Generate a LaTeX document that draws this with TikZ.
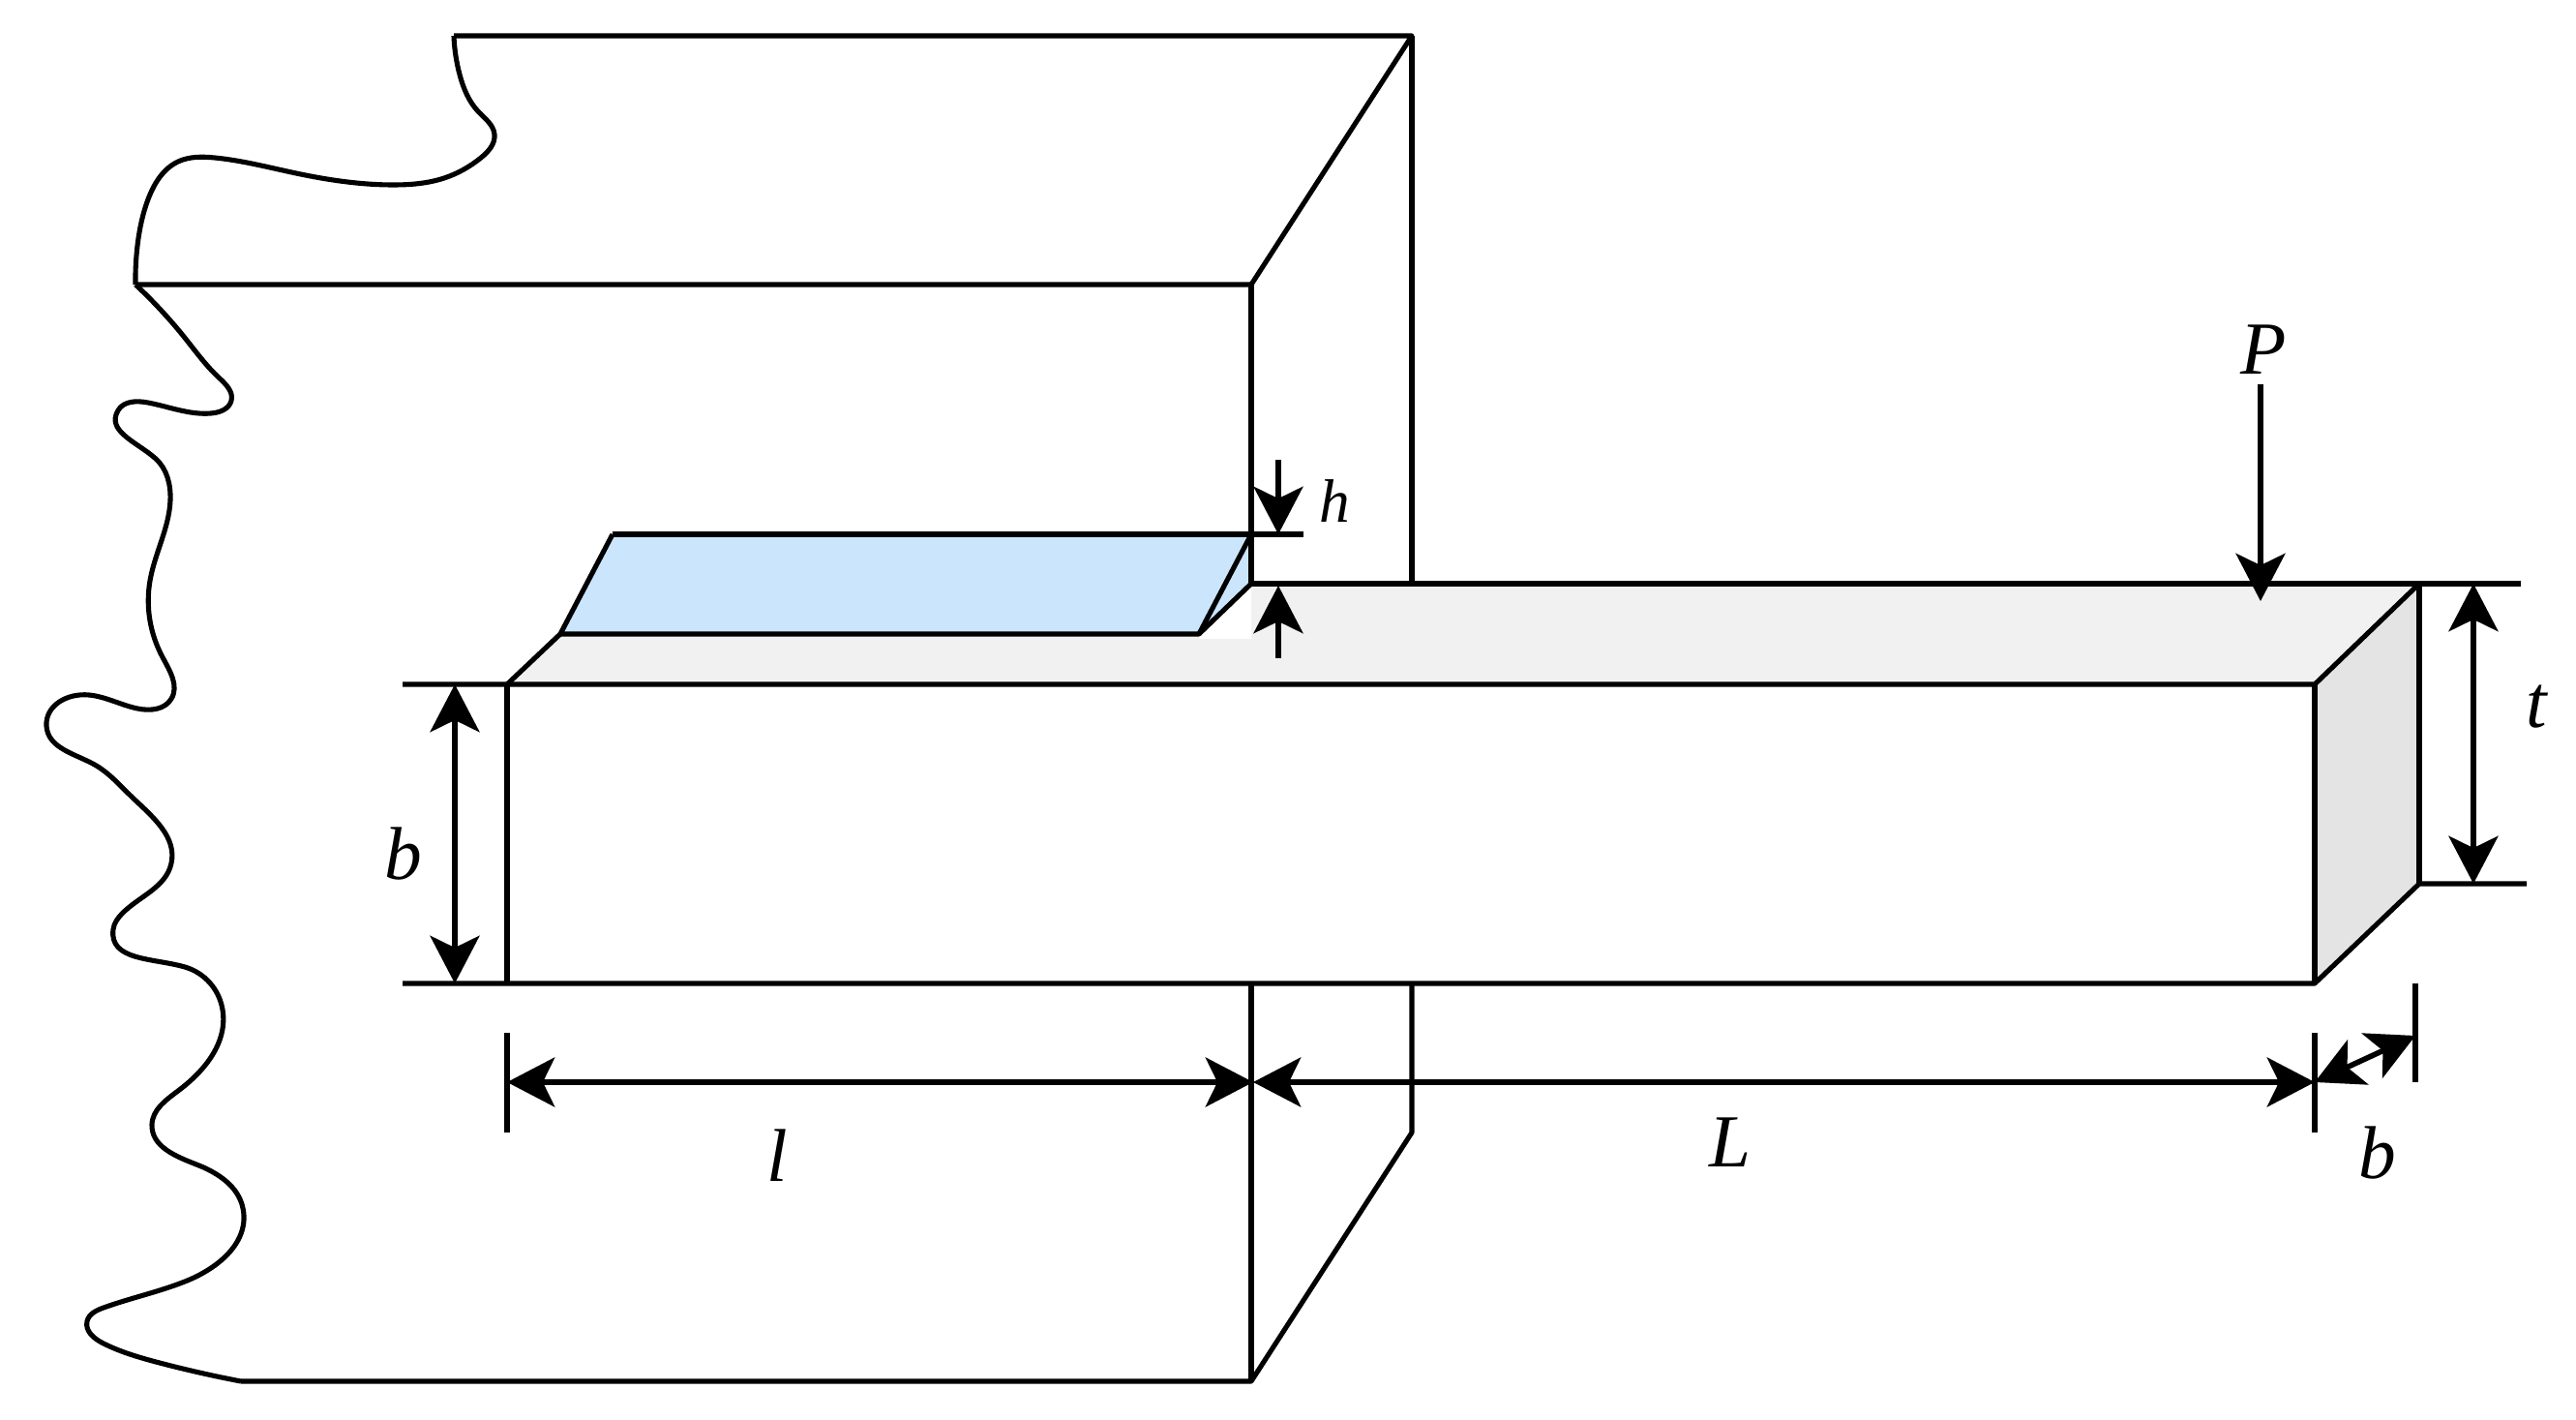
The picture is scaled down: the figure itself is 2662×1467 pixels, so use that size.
\documentclass[tikz,border=0pt]{standalone}
\usepackage{fontspec}
\setmainfont{Liberation Serif}
\usetikzlibrary{arrows.meta, hobby}
\definecolor{weldblue}{HTML}{CBE5FD}
\definecolor{topgray}{HTML}{F1F1F1}
\definecolor{sidegray}{HTML}{E4E4E4}
\tikzset{
	dimarrow/.style={line width=1.6pt, {Stealth[length=14pt, width=14.5pt, inset=3.5pt]}-{Stealth[length=14pt, width=14.5pt, inset=3.5pt]}},
	loadarrow/.style={line width=1.6pt, -{Stealth[length=14pt, width=14.5pt, inset=3.5pt]}},
	dimlabel/.style={font=\fontsize{22pt}{24pt}\selectfont\itshape, inner sep=0pt}
}
\begin{document}
\begin{tikzpicture}[x=0.01cm, y=-0.01cm, line width=1.45pt, line join=round, use Hobby shortcut]
		\useasboundingbox (0, 0) rectangle (2662, 1467);
		
		% beam corners
		\coordinate (fronttl) at (524, 707);
		\coordinate (fronttr) at (2392, 707);
		\coordinate (frontbr) at (2392, 1016);
		\coordinate (frontbl) at (524, 1016);
		\coordinate (backtr) at (2500, 603);
		\coordinate (backbr) at (2500, 913);
		\coordinate (backtl) at (1293, 603);
		
		% weld corners
		\coordinate (weldtl) at (633, 552);
		\coordinate (weldtr) at (1293, 552);
		\coordinate (weldbr) at (1239, 655);
		\coordinate (weldbl) at (579, 655);
		
		% wall corners
		\coordinate (walltl) at (469, 37);
		\coordinate (walltr) at (1459, 37);
		\coordinate (wallfl) at (140, 294);
		\coordinate (wallfr) at (1293, 294);
		\coordinate (wallbl) at (249, 1427);
		\coordinate (wallbr) at (1293, 1427);
		\coordinate (wallbk) at (1459, 1170);
		
		% fills
		\fill[topgray] (fronttl) -- (weldbl) -- (1293, 655) -- (backtl) -- (backtr) -- (fronttr) -- cycle;
		\fill[sidegray] (fronttr) -- (backtr) -- (backbr) -- (frontbr) -- cycle;
		\fill[white] (weldbr) -- (backtl) -- (1293, 660) -- (1239, 660) -- cycle;
		\fill[weldblue] (weldtl) -- (weldtr) -- (backtl) -- (weldbr) -- (weldbl) -- cycle;
		
		% wall outline
		\draw (walltl) -- (walltr) -- (wallfr) -- (wallfl);
		\draw (walltl) .. (475, 77) .. (494, 115) .. (511, 139) .. (497, 163) .. (459, 184) .. (406, 191) .. (306, 179) .. (222, 163) .. (184, 167) .. (153, 206) .. (142, 254) .. (wallfl);
		\draw (wallfl) .. (191, 349) .. (226, 390) .. (239, 414) .. (218, 427) .. (153, 416) .. (122, 424) .. (161, 474) .. (176, 517) .. (155, 600) .. (168, 679) .. (177, 722) .. (142, 732) .. (92, 718) .. (48, 750) .. (96, 789) .. (138, 825) .. (177, 892) .. (126, 944) .. (117, 960) .. (191, 999) .. (230, 1043) .. (184, 1127) .. (157, 1162) .. (203, 1203) .. (251, 1248) .. (191, 1324) .. (107, 1351) .. (90, 1365) .. (107, 1388) .. (165, 1408) .. (wallbl);
		\draw (wallbl) -- (wallbr) -- (wallbk) -- (1459, 1016);
		\draw (walltr) -- (1459, 603);
		\draw (wallfr) -- (backtl);
		\draw (1293, 1016) -- (wallbr);
		
		% weld
		\draw (weldtl) -- (1347, 552);
		\draw (weldtl) -- (weldbl) -- (weldbr) -- (weldtr);
		\draw (weldbr) -- (backtl);
		
		% beam
		\draw (weldbl) -- (fronttl);
		\draw (416, 707) -- (fronttr) -- (backtr);
		\draw (backtl) -- (2605, 603);
		\draw (416, 1016) -- (frontbr) -- (backbr) -- (2611, 913);
		\draw (fronttl) -- (frontbl);
		\draw (fronttr) -- (frontbr);
		\draw (backtr) -- (backbr);
		
		% extension ticks
		\draw (524, 1067) -- (524, 1170);
		\draw (2392, 1067) -- (2392, 1170);
		\draw (2496, 1016) -- (2496, 1118);
		
		% dimensions
		\coordinate (dimleft) at (524, 1118);
		\coordinate (dimmid) at (1295, 1118);
		\coordinate (dimright) at (2392, 1118);
		\coordinate (dimdepth) at (2496, 1070);
		\draw[dimarrow] (470, 707) -- (470, 1016);
		\draw[dimarrow] (2556, 603) -- (2556, 913);
		\draw[dimarrow] (dimleft) -- (dimmid);
		\draw[dimarrow] (dimmid) -- (dimright);
		\draw[dimarrow] (dimright) -- (dimdepth);
		\draw[loadarrow] (1321, 475) -- (1321, 552);
		\draw[loadarrow] (1321, 680) -- (1321, 605);
		\draw[loadarrow] (2336, 397) -- (2336, 621);
		
		\node[dimlabel] (labP) at (2339, 361) {P};
		\node[dimlabel] (labt) at (2621, 730) {t};
		\node[dimlabel] (labb) at (417, 882) {b};
		\node[dimlabel] (labl) at (803, 1194) {l};
		\node[dimlabel] (labL) at (1788, 1180) {L};
		\node[dimlabel] (labd) at (2457, 1191) {b};
		\node[dimlabel, font=\fontsize{18pt}{20pt}\selectfont\itshape] (labh) at (1379, 518) {h};
		\end{tikzpicture}
\end{document}
